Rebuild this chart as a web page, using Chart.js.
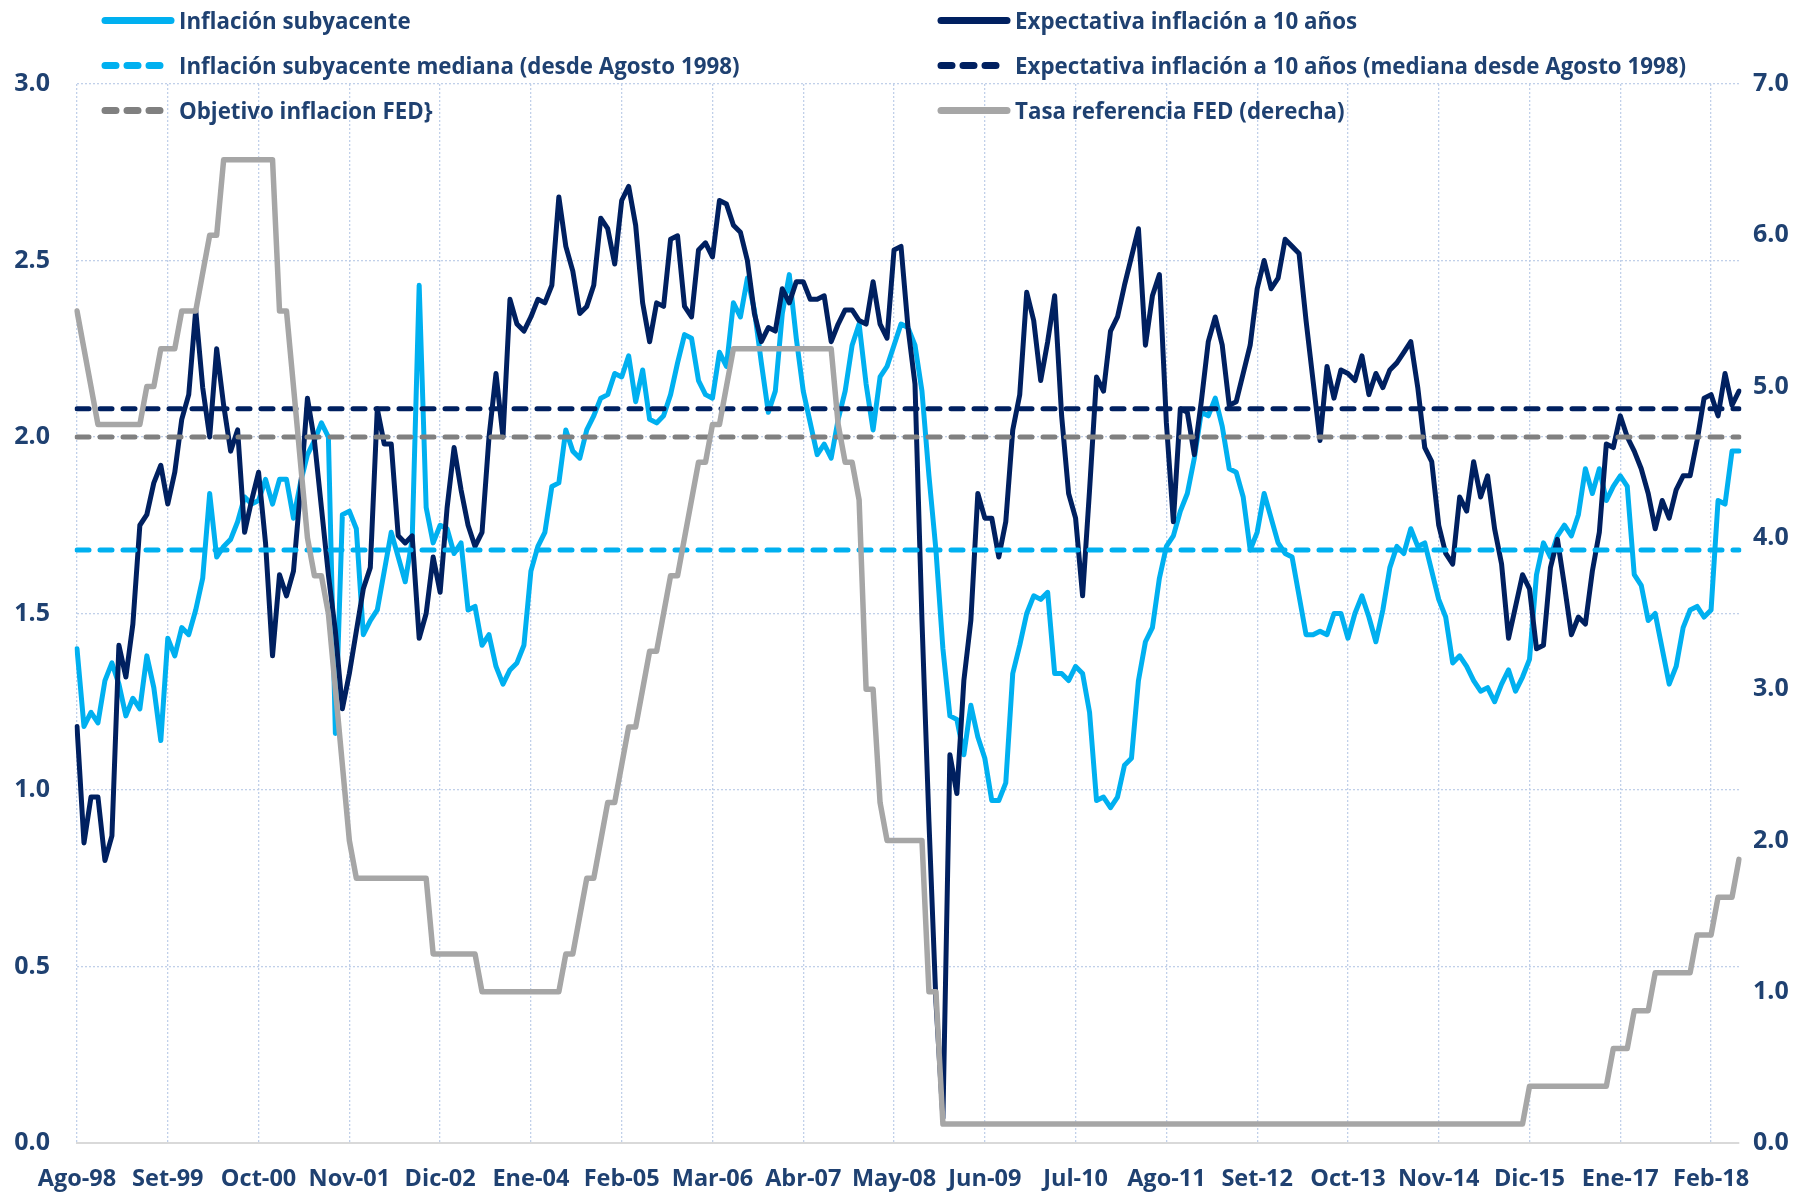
<!DOCTYPE html>
<html lang="es">
<head>
<meta charset="utf-8">
<title>Inflación subyacente, expectativas y tasa FED</title>
<script src="https://cdn.jsdelivr.net/npm/chart.js@4.4.1/dist/chart.umd.min.js"></script>
<style>
    html, body { margin: 0; padding: 0; background: #fff; }
    #wrap { position: relative; width: 1812px; height: 1192px; }
    #grafico { position: absolute; left: 0; top: 0; }
    .leg {
        position: absolute; display: flex; align-items: center; white-space: nowrap;
        font-family: 'Open Sans', sans-serif; font-weight: 700; font-size: 22.3px; color: #1F4171;
        transform: translateY(-50%);
    }
    .leg svg { margin-right: 3px; }
</style>
</head>
<body>
<div id="wrap">
    <canvas id="grafico" width="1812" height="1192" style="width:1812px;height:1192px"></canvas>
    <div id="leyenda"></div>
</div>
<script>
// meses para las etiquetas del eje (desde Ago-98)
const meses = ['Ene', 'Feb', 'Mar', 'Abr', 'May', 'Jun', 'Jul', 'Ago', 'Set', 'Oct', 'Nov', 'Dic'];

// Inflación subyacente (% a/a), Ago-98 .. Jun-18
const inflacionSubyacente = [
    1.40, 1.18, 1.22, 1.19, 1.31,
    1.36, 1.30, 1.21, 1.26, 1.23, 1.38, 1.29, 1.14, 1.43, 1.38, 1.46, 1.44,
    1.51, 1.60, 1.84, 1.66, 1.69, 1.71, 1.76, 1.83, 1.81, 1.82, 1.88, 1.81,
    1.88, 1.88, 1.77, 1.87, 1.95, 1.99, 2.04, 2.00, 1.16, 1.78, 1.79, 1.74,
    1.44, 1.48, 1.51, 1.62, 1.73, 1.66, 1.59, 1.71, 2.43, 1.80, 1.70, 1.75,
    1.74, 1.67, 1.70, 1.51, 1.52, 1.41, 1.44, 1.35, 1.30, 1.34, 1.36, 1.41,
    1.62, 1.69, 1.73, 1.86, 1.87, 2.02, 1.96, 1.94, 2.02, 2.06, 2.11, 2.12,
    2.18, 2.17, 2.23, 2.10, 2.19, 2.05, 2.04, 2.06, 2.12, 2.21, 2.29, 2.28,
    2.16, 2.12, 2.11, 2.24, 2.20, 2.38, 2.34, 2.45, 2.36, 2.21, 2.07, 2.13,
    2.35, 2.46, 2.28, 2.13, 2.04, 1.95, 1.98, 1.94, 2.05, 2.13, 2.26, 2.32,
    2.15, 2.02, 2.17, 2.20, 2.26, 2.32, 2.31, 2.26, 2.13, 1.89, 1.68, 1.40,
    1.21, 1.20, 1.10, 1.24, 1.15, 1.09, 0.97, 0.97, 1.02, 1.33, 1.41, 1.50,
    1.55, 1.54, 1.56, 1.33, 1.33, 1.31, 1.35, 1.33, 1.22, 0.97, 0.98, 0.95,
    0.98, 1.07, 1.09, 1.31, 1.42, 1.46, 1.60, 1.69, 1.72, 1.79, 1.84, 1.94,
    2.07, 2.06, 2.11, 2.03, 1.91, 1.90, 1.83, 1.68, 1.73, 1.84, 1.77, 1.70,
    1.67, 1.66, 1.55, 1.44, 1.44, 1.45, 1.44, 1.50, 1.50, 1.43, 1.50, 1.55,
    1.49, 1.42, 1.51, 1.63, 1.69, 1.67, 1.74, 1.69, 1.70, 1.62, 1.54, 1.49,
    1.36, 1.38, 1.35, 1.31, 1.28, 1.29, 1.25, 1.30, 1.34, 1.28, 1.32, 1.37,
    1.61, 1.70, 1.66, 1.72, 1.75, 1.72, 1.78, 1.91, 1.84, 1.91, 1.82, 1.86,
    1.89, 1.86, 1.61, 1.58, 1.48, 1.50, 1.40, 1.30, 1.35, 1.46, 1.51, 1.52,
    1.49, 1.51, 1.82, 1.81, 1.96, 1.96
];

// Expectativa de inflación a 10 años (%)
const expectativa10 = [
    1.18, 0.85, 0.98, 0.98, 0.80,
    0.87, 1.41, 1.32, 1.47, 1.75, 1.78, 1.87, 1.92, 1.81, 1.90, 2.05, 2.12,
    2.36, 2.14, 2.00, 2.25, 2.09, 1.96, 2.02, 1.73, 1.82, 1.90, 1.70, 1.38,
    1.61, 1.55, 1.62, 1.85, 2.11, 1.99, 1.80, 1.61, 1.45, 1.23, 1.33, 1.45,
    1.57, 1.63, 2.08, 1.98, 1.98, 1.72, 1.70, 1.72, 1.43, 1.50, 1.66, 1.56,
    1.80, 1.97, 1.85, 1.75, 1.69, 1.73, 2.00, 2.18, 2.00, 2.39, 2.32, 2.30,
    2.34, 2.39, 2.38, 2.43, 2.68, 2.54, 2.47, 2.35, 2.37, 2.43, 2.62, 2.59,
    2.49, 2.67, 2.71, 2.60, 2.38, 2.27, 2.38, 2.37, 2.56, 2.57, 2.37, 2.34,
    2.53, 2.55, 2.51, 2.67, 2.66, 2.60, 2.58, 2.50, 2.35, 2.27, 2.31, 2.30,
    2.42, 2.38, 2.44, 2.44, 2.39, 2.39, 2.40, 2.27, 2.32, 2.36, 2.36, 2.33,
    2.32, 2.44, 2.32, 2.28, 2.53, 2.54, 2.31, 2.15, 1.48, 0.91, 0.40, 0.07,
    1.10, 0.99, 1.31, 1.48, 1.84, 1.77, 1.77, 1.66, 1.76, 2.02, 2.12, 2.41,
    2.33, 2.16, 2.27, 2.40, 2.06, 1.84, 1.77, 1.55, 1.85, 2.17, 2.13, 2.30,
    2.34, 2.43, 2.51, 2.59, 2.26, 2.40, 2.46, 2.04, 1.76, 2.08, 2.07, 1.95,
    2.10, 2.27, 2.34, 2.26, 2.09, 2.10, 2.18, 2.26, 2.42, 2.50, 2.42, 2.45,
    2.56, 2.54, 2.52, 2.33, 2.16, 1.99, 2.20, 2.11, 2.19, 2.18, 2.16, 2.23,
    2.12, 2.18, 2.14, 2.19, 2.21, 2.24, 2.27, 2.14, 1.97, 1.93, 1.75, 1.67,
    1.64, 1.83, 1.79, 1.93, 1.83, 1.89, 1.74, 1.64, 1.43, 1.52, 1.61, 1.57,
    1.40, 1.41, 1.63, 1.71, 1.58, 1.44, 1.49, 1.47, 1.62, 1.73, 1.98, 1.97,
    2.06, 2.00, 1.96, 1.91, 1.84, 1.74, 1.82, 1.77, 1.85, 1.89, 1.89, 1.99,
    2.11, 2.12, 2.06, 2.18, 2.09, 2.13
];

// Tasa de referencia FED (%, eje derecho)
const tasaFed = [
    5.50, 5.25, 5.00, 4.75, 4.75,
    4.75, 4.75, 4.75, 4.75, 4.75, 5.00, 5.00, 5.25, 5.25, 5.25, 5.50, 5.50,
    5.50, 5.75, 6.00, 6.00, 6.50, 6.50, 6.50, 6.50, 6.50, 6.50, 6.50, 6.50,
    5.50, 5.50, 5.00, 4.50, 4.00, 3.75, 3.75, 3.50, 3.00, 2.50, 2.00, 1.75,
    1.75, 1.75, 1.75, 1.75, 1.75, 1.75, 1.75, 1.75, 1.75, 1.75, 1.25, 1.25,
    1.25, 1.25, 1.25, 1.25, 1.25, 1.00, 1.00, 1.00, 1.00, 1.00, 1.00, 1.00,
    1.00, 1.00, 1.00, 1.00, 1.00, 1.25, 1.25, 1.50, 1.75, 1.75, 2.00, 2.25,
    2.25, 2.50, 2.75, 2.75, 3.00, 3.25, 3.25, 3.50, 3.75, 3.75, 4.00, 4.25,
    4.50, 4.50, 4.75, 4.75, 5.00, 5.25, 5.25, 5.25, 5.25, 5.25, 5.25, 5.25,
    5.25, 5.25, 5.25, 5.25, 5.25, 5.25, 5.25, 5.25, 4.75, 4.50, 4.50, 4.25,
    3.00, 3.00, 2.25, 2.00, 2.00, 2.00, 2.00, 2.00, 2.00, 1.00, 1.00, 0.125,
    0.125, 0.125, 0.125, 0.125, 0.125, 0.125, 0.125, 0.125, 0.125, 0.125, 0.125, 0.125,
    0.125, 0.125, 0.125, 0.125, 0.125, 0.125, 0.125, 0.125, 0.125, 0.125, 0.125, 0.125,
    0.125, 0.125, 0.125, 0.125, 0.125, 0.125, 0.125, 0.125, 0.125, 0.125, 0.125, 0.125,
    0.125, 0.125, 0.125, 0.125, 0.125, 0.125, 0.125, 0.125, 0.125, 0.125, 0.125, 0.125,
    0.125, 0.125, 0.125, 0.125, 0.125, 0.125, 0.125, 0.125, 0.125, 0.125, 0.125, 0.125,
    0.125, 0.125, 0.125, 0.125, 0.125, 0.125, 0.125, 0.125, 0.125, 0.125, 0.125, 0.125,
    0.125, 0.125, 0.125, 0.125, 0.125, 0.125, 0.125, 0.125, 0.125, 0.125, 0.125, 0.375,
    0.375, 0.375, 0.375, 0.375, 0.375, 0.375, 0.375, 0.375, 0.375, 0.375, 0.375, 0.625,
    0.625, 0.625, 0.875, 0.875, 0.875, 1.125, 1.125, 1.125, 1.125, 1.125, 1.125, 1.375,
    1.375, 1.375, 1.625, 1.625, 1.625, 1.875
];

// lineas de referencia
const medianaSubyacente = 1.68;
const medianaExpectativa = 2.08;
const objetivoFed = 2.0;

const ticksIzq = [0, 0.5, 1, 1.5, 2, 2.5, 3];
const ticksDer = [0, 1, 2, 3, 4, 5, 6, 7];

// etiquetas mensuales
const etiquetas = [];
for (let k = 0; k < inflacionSubyacente.length; k++) {
    const m = 7 + k;
    etiquetas.push(meses[m % 12] + '-' + String(1998 + Math.floor(m / 12)).slice(2));
}

const CIAN = '#00B0F0', AZUL = '#002060', GRIS = '#A6A6A6', GRIS_OSC = '#808080';
const TEXTO = '#1F4171';
const REJILLA = 'rgba(190,205,232,0.95)';

const leyenda = [
    {txt: 'Inflación subyacente', color: CIAN, dash: false, x: 100, y: 20},
    {txt: 'Expectativa inflación a 10 años', color: AZUL, dash: false, x: 936, y: 20},
    {txt: 'Inflación subyacente mediana (desde Agosto 1998)', color: CIAN, dash: true, x: 100, y: 65},
    {txt: 'Expectativa inflación a 10 años (mediana desde Agosto 1998)', color: AZUL, dash: true, x: 936, y: 65},
    {txt: 'Objetivo inflacion FED}', color: GRIS_OSC, dash: true, x: 100, y: 110},
    {txt: 'Tasa referencia FED (derecha)', color: GRIS, dash: false, x: 936, y: 110}
];

function dibujarLeyenda() {
    const cont = document.getElementById('leyenda');
    leyenda.forEach(it => {
        const d = document.createElement('div');
        d.className = 'leg';
        d.style.left = it.x + 'px';
        d.style.top = it.y + 'px';
        const trazo = it.dash ? 'stroke-dasharray="11 11"' : '';
        d.innerHTML = `<svg width="76" height="14"><line x1="5" y1="7" x2="71" y2="7" stroke="${it.color}" stroke-width="7" stroke-linecap="round" ${trazo}/></svg><span>${it.txt}</span>`;
        cont.appendChild(d);
    });
}

function serieConstante(v) {
    return etiquetas.map(() => v);
}

document.addEventListener('DOMContentLoaded', () => {
    dibujarLeyenda();
    const ctx = document.getElementById('grafico').getContext('2d');
    const fuenteX = {family: "'Open Sans', sans-serif", size: 23.5, weight: 'bold'};
    const fuenteY = {family: "'Open Sans', sans-serif", size: 25, weight: 'bold'};

    new Chart(ctx, {
        type: 'line',
        data: {
            labels: etiquetas,
            datasets: [
                {label: 'Inflación subyacente', data: inflacionSubyacente, borderColor: CIAN, borderWidth: 5, yAxisID: 'y', order: 5},
                {label: 'Expectativa inflación a 10 años', data: expectativa10, borderColor: AZUL, borderWidth: 5, yAxisID: 'y', order: 4},
                {label: 'Inflación subyacente mediana (desde Agosto 1998)', data: serieConstante(medianaSubyacente), borderColor: CIAN, borderWidth: 5, borderDash: [12, 11], yAxisID: 'y', order: 3},
                {label: 'Expectativa inflación a 10 años (mediana desde Agosto 1998)', data: serieConstante(medianaExpectativa), borderColor: AZUL, borderWidth: 5, borderDash: [12, 11], yAxisID: 'y', order: 2},
                {label: 'Objetivo inflacion FED}', data: serieConstante(objetivoFed), borderColor: GRIS_OSC, borderWidth: 5, borderDash: [12, 11], yAxisID: 'y', order: 1},
                {label: 'Tasa referencia FED (derecha)', data: tasaFed, borderColor: GRIS, borderWidth: 5.5, yAxisID: 'y2', order: 0}
            ]
        },
        options: {
            responsive: false,
            animation: false,
            layout: {padding: {top: 84, left: 0, right: 0, bottom: 0}},
            elements: {
                point: {radius: 0, hoverRadius: 0},
                line: {tension: 0, borderCapStyle: 'round', borderJoinStyle: 'round', fill: false}
            },
            plugins: {legend: {display: false}, tooltip: {enabled: false}},
            scales: {
                x: {
                    type: 'category',
                    offset: false,
                    afterFit: s => { s.height = 49; },
                    grid: {
                        color: c => (c.index % 13 === 0 ? REJILLA : 'rgba(0,0,0,0)'),
                        lineWidth: 1.3,
                        drawTicks: false
                    },
                    border: {display: true, color: '#D9D9D9', width: 2, dash: [2, 2]},
                    ticks: {
                        autoSkip: false, maxRotation: 0, minRotation: 0, padding: 22,
                        color: TEXTO, font: fuenteX,
                        callback: (v, i) => (i % 13 === 0 ? etiquetas[i] : '')
                    }
                },
                y: {
                    position: 'left',
                    min: 0, max: 3,
                    afterFit: s => { s.width = 77; },
                    afterBuildTicks: s => { s.ticks = ticksIzq.map(v => ({value: v})); },
                    grid: {color: REJILLA, lineWidth: 1.3, drawTicks: false},
                    border: {display: false, dash: [2, 2]},
                    ticks: {padding: 27, color: TEXTO, font: fuenteY, callback: v => v.toFixed(1)}
                },
                y2: {
                    position: 'right',
                    min: 0, max: 7,
                    afterFit: s => { s.width = 73; },
                    afterBuildTicks: s => { s.ticks = ticksDer.map(v => ({value: v})); },
                    grid: {display: false, drawTicks: false},
                    border: {display: false},
                    ticks: {padding: 14, color: TEXTO, font: fuenteY, callback: v => v.toFixed(1)}
                }
            }
        }
    });
});
</script>
</body>
</html>
